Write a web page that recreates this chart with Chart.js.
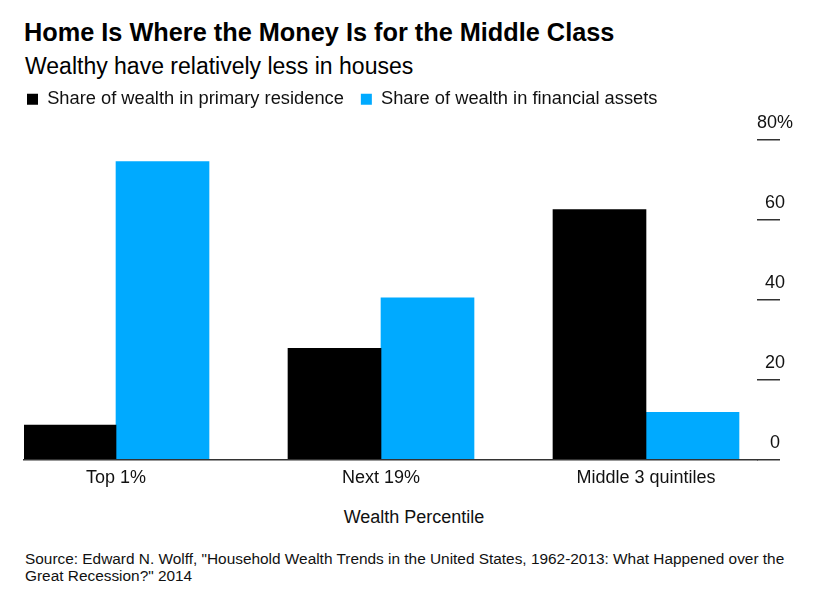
<!DOCTYPE html>
<html>
<head>
<meta charset="utf-8">
<script src="https://cdn.jsdelivr.net/npm/chart.js@4.4.1/dist/chart.umd.min.js"></script>
<style>
  body { margin: 0; width: 831px; height: 599px; background: #fff; position: relative; overflow: hidden;
         font-family: 'Liberation Sans', Arial, sans-serif; color: #000; }
  .txt { position: absolute; line-height: 1; white-space: nowrap; }
  #title { left: 24px; top: 20px; font-size: 25.3px; font-weight: bold; }
  #subtitle { left: 25px; top: 55px; font-size: 23px; }
  #axisTitle { left: 314px; top: 508px; width: 200px; text-align: center; font-size: 18px; color: #111; }
  #source { left: 25px; top: 550px; font-size: 15.4px; line-height: 17px; color: #111; }
  #wrap { position: absolute; left: 0; top: 73px; width: 831px; height: 427px; }
</style>
</head>
<body>
<div id="title" class="txt">Home Is Where the Money Is for the Middle Class</div>
<div id="subtitle" class="txt">Wealthy have relatively less in houses</div>
<div id="wrap"><canvas id="myChart" width="831" height="427"></canvas></div>
<div id="axisTitle" class="txt">Wealth Percentile</div>
<div id="source" class="txt">Source: Edward N. Wolff, "Household Wealth Trends in the United States, 1962-2013: What Happened over the<br>Great Recession?" 2014</div>
<script>
var categories = ['Top 1%', 'Next 19%', 'Middle 3 quintiles'];
var seriesNames = ['Share of wealth in primary residence', 'Share of wealth in financial assets'];
var residenceShare = [8.7, 27.9, 62.6];
var financialShare = [74.6, 40.5, 11.9];
var yTicks = [0, 20, 40, 60, 80];

var font = 'Liberation Sans';

function toPoints(values) {
  return values.map(function(v, i) { return {x: i, y: v}; });
}

var ctx = document.getElementById('myChart').getContext('2d');
var chart = new Chart(ctx, {
  type: 'bar',
  data: {
    datasets: [{
      label: seriesNames[0],
      data: toPoints(residenceShare),
      backgroundColor: '#000000',
      xAxisID: 'x',
      yAxisID: 'y'
    }, {
      label: seriesNames[1],
      data: toPoints(financialShare),
      backgroundColor: '#00aaff',
      xAxisID: 'x',
      yAxisID: 'y'
    }]
  },
  options: {
    responsive: false,
    animation: false,
    barThickness: 93,
    layout: { padding: { left: 10, right: 0, top: 0, bottom: 0 } },
    plugins: {
      tooltip: { enabled: false },
      legend: {
        position: 'top',
        align: 'start',
        labels: {
          boxWidth: 11,
          boxHeight: 11,
          padding: 17,
          color: '#111',
          font: { family: font, size: 18.3 }
        }
      }
    },
    scales: {
      x: {
        type: 'linear',
        offset: false,
        bounds: 'data',
        min: -0.3472,
        max: 2.4189,
        grid: { display: false, drawTicks: false },
        border: { display: true, color: '#333', width: 1.5, z: 1 },
        afterBuildTicks: function(scale) {
          scale.ticks = categories.map(function(c, i) { return {value: i}; });
        },
        afterFit: function(scale) { scale.height = 40; },
        ticks: {
          autoSkip: false,
          maxRotation: 0,
          padding: 7,
          color: '#111',
          font: { family: font, size: 18 },
          callback: function(v) { return categories[v]; }
        }
      },
      gutter: {
        type: 'linear',
        position: 'left',
        grid: { display: false },
        border: { display: false },
        ticks: { display: false },
        afterFit: function(scale) { scale.width = 14; }
      },
      y: {
        position: 'right',
        min: 0,
        max: 85.4,
        border: { display: false },
        grid: {
          drawOnChartArea: false,
          drawTicks: true,
          tickLength: 23,
          color: '#333',
          lineWidth: 1.5
        },
        afterBuildTicks: function(scale) {
          scale.ticks = yTicks.map(function(v) { return {value: v}; });
        },
        afterFit: function(scale) { scale.width = 74; },
        ticks: {
          padding: -23,
          crossAlign: 'center',
          labelOffset: -17,
          color: '#111',
          font: { family: font, size: 18 },
          callback: function(v) { return v === 80 ? v + '%' : '' + v; }
        }
      }
    }
  }
});
</script>
</body>
</html>
